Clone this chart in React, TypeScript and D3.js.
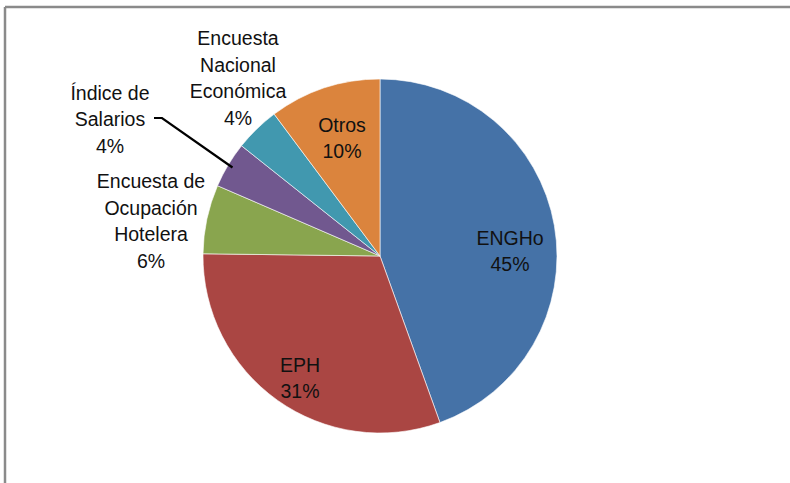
import React from "react";
import * as d3 from "d3";

const categories = [
  "ENGHo",
  "EPH",
  "Encuesta de Ocupación Hotelera",
  "Índice de Salarios",
  "Encuesta Nacional Económica",
  "Otros",
];
const values = [44.5, 30.7, 6.3, 4.2, 4.1, 10.2];
const percentLabels = ["45%", "31%", "6%", "4%", "4%", "10%"];
const labelLines = [
  ["ENGHo"],
  ["EPH"],
  ["Encuesta de", "Ocupación", "Hotelera"],
  ["Índice de", "Salarios"],
  ["Encuesta", "Nacional", "Económica"],
  ["Otros"],
];
const colors = ["#4572A7", "#AA4643", "#89A54E", "#71588F", "#4198AF", "#DB843D"];

// label centre offsets relative to the pie centre (layout only)
const labelOffsets: [number, number][] = [
  [130, -5],
  [-80, 122],
  [-229, -35],
  [-270, -137],
  [-142, -178],
  [-38, -118],
];

const W = 790;
const H = 483;
const cx = 380;
const cy = 256;
const R = 177;
const lineH = 26.5;

export default function App() {
  const pie = d3
    .pie<number>()
    .sort(null)
    .value((d) => d)
    .startAngle(0)
    .endAngle(2 * Math.PI);
  const arcs = pie(values);
  const arc = d3.arc<d3.PieArcDatum<number>>().innerRadius(0).outerRadius(R);

  // leader line for Índice de Salarios
  const sal = arcs[3];
  const salMid = (sal.startAngle + sal.endAngle) / 2;
  const edgeX = cx + Math.sin(salMid) * (R - 5);
  const edgeY = cy - Math.cos(salMid) * (R - 5);
  const salLabelX = cx + labelOffsets[3][0];
  const salLabelY = cy + labelOffsets[3][1];

  return (
    <svg
      width={W}
      height={H}
      style={{ position: "absolute", left: 0, top: 0, background: "#fff" }}
      fontFamily="'Liberation Sans', Arial, sans-serif"
    >
      <rect x={0} y={0} width={W} height={H} fill="#fff" />
      <line x1={5} y1={7} x2={W} y2={7} stroke="#8a8a8a" strokeWidth={2.5} />
      <line x1={5} y1={7} x2={5} y2={H} stroke="#8a8a8a" strokeWidth={2.5} />
      <g transform={`translate(${cx},${cy})`}>
        {arcs.map((a, i) => (
          <path key={categories[i]} d={arc(a) || ""} fill={colors[i]} stroke="#ffffff" strokeWidth={0.6} />
        ))}
      </g>
      <polyline
        points={`${salLabelX + 44},${salLabelY - 1} ${salLabelX + 52},${salLabelY - 1} ${edgeX},${edgeY}`}
        fill="none"
        stroke="#000"
        strokeWidth={2.2}
      />
      {arcs.map((a, i) => {
        const lines = [...labelLines[i], percentLabels[i]];
        const x = cx + labelOffsets[i][0];
        const y = cy + labelOffsets[i][1];
        const top = y - ((lines.length - 1) * lineH) / 2;
        return (
          <text key={categories[i]} textAnchor="middle" fontSize={19.5} fill="#111">
            {lines.map((l, j) => (
              <tspan key={j} x={x} y={top + j * lineH + 7}>
                {l}
              </tspan>
            ))}
          </text>
        );
      })}
    </svg>
  );
}
